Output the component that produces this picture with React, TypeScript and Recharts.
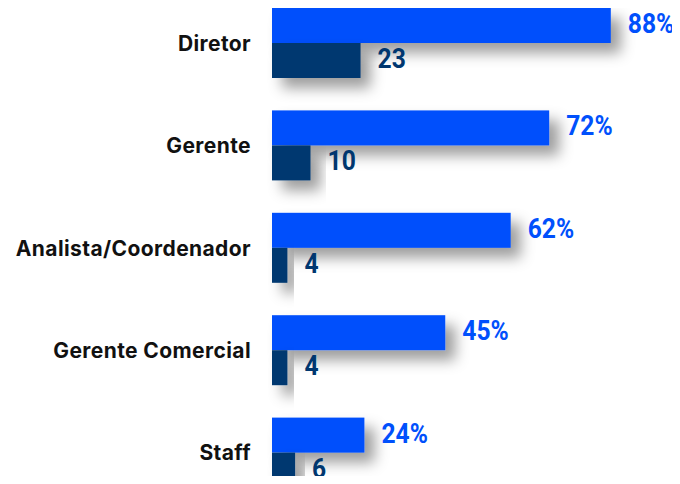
import { BarChart, Bar, XAxis, YAxis, LabelList } from "recharts";

const categories = ["Diretor", "Gerente", "Analista/Coordenador", "Gerente Comercial", "Staff"];
const percentValues = [88, 72, 62, 45, 24];
const countValues = [23, 10, 4, 4, 6];

const data = categories.map((name, i) => ({
  name,
  pct: percentValues[i],
  count: countValues[i],
}));

const BLUE = "#0050FC";
const NAVY = "#00376F";

function ShadowRect(props: any) {
  const { x, y, width, height, fill } = props;
  if (!width || width <= 0) return null;
  return <rect x={x} y={y} width={width} height={height} fill={fill} filter="url(#barShadow)" />;
}

function CategoryTick(props: any) {
  const { y, payload } = props;
  return (
    <text
      x={251}
      y={y}
      textAnchor="end"
      dominantBaseline="central"
      fontFamily="Inter, 'Noto Sans', sans-serif"
      fontWeight={700}
      fontSize={21}
      letterSpacing={0.4}
      fill="#111"
    >
      {payload.value}
    </text>
  );
}

// condensed look: Roboto bold squeezed horizontally
function makeLabel(color: string, suffix: string) {
  return (props: any) => {
    const { x, y, width, height, value } = props;
    const lx = x + width + 17;
    const ly = y + height / 2 - 2;
    return (
      <text
        transform={`translate(${lx},${ly}) scale(0.88,1)`}
        dominantBaseline="central"
        fontFamily="Roboto, sans-serif"
        fontWeight={700}
        fontSize={28}
        fill={color}
      >
        {value}
        {suffix}
      </text>
    );
  };
}

export default function App() {
  return (
    <div style={{ position: "relative", width: 680, height: 484, margin: -8, overflow: "hidden", background: "#fff" }}>
      <div style={{ position: "absolute", left: 0, top: -8 }}>
        <BarChart
          width={680}
          height={512}
          data={data}
          layout="vertical"
          margin={{ top: 0, right: 23, left: 0, bottom: 0 }}
          barGap={0}
        >
          <defs>
            <filter id="barShadow" x="-20%" y="-60%" width="160%" height="250%">
              <feDropShadow dx={10} dy={10} stdDeviation={7} floodColor="#000" floodOpacity={0.38} />
            </filter>
          </defs>
          <XAxis type="number" domain={[0, 100]} hide />
          <YAxis
            type="category"
            dataKey="name"
            width={272}
            axisLine={false}
            tickLine={false}
            tick={<CategoryTick />}
          />
          <Bar dataKey="pct" fill={BLUE} barSize={35} shape={<ShadowRect />} isAnimationActive={false}>
            <LabelList dataKey="pct" content={makeLabel(BLUE, "%")} />
          </Bar>
          <Bar dataKey="count" fill={NAVY} barSize={35} shape={<ShadowRect />} isAnimationActive={false}>
            <LabelList dataKey="count" content={makeLabel(NAVY, "")} />
          </Bar>
        </BarChart>
      </div>
    </div>
  );
}
